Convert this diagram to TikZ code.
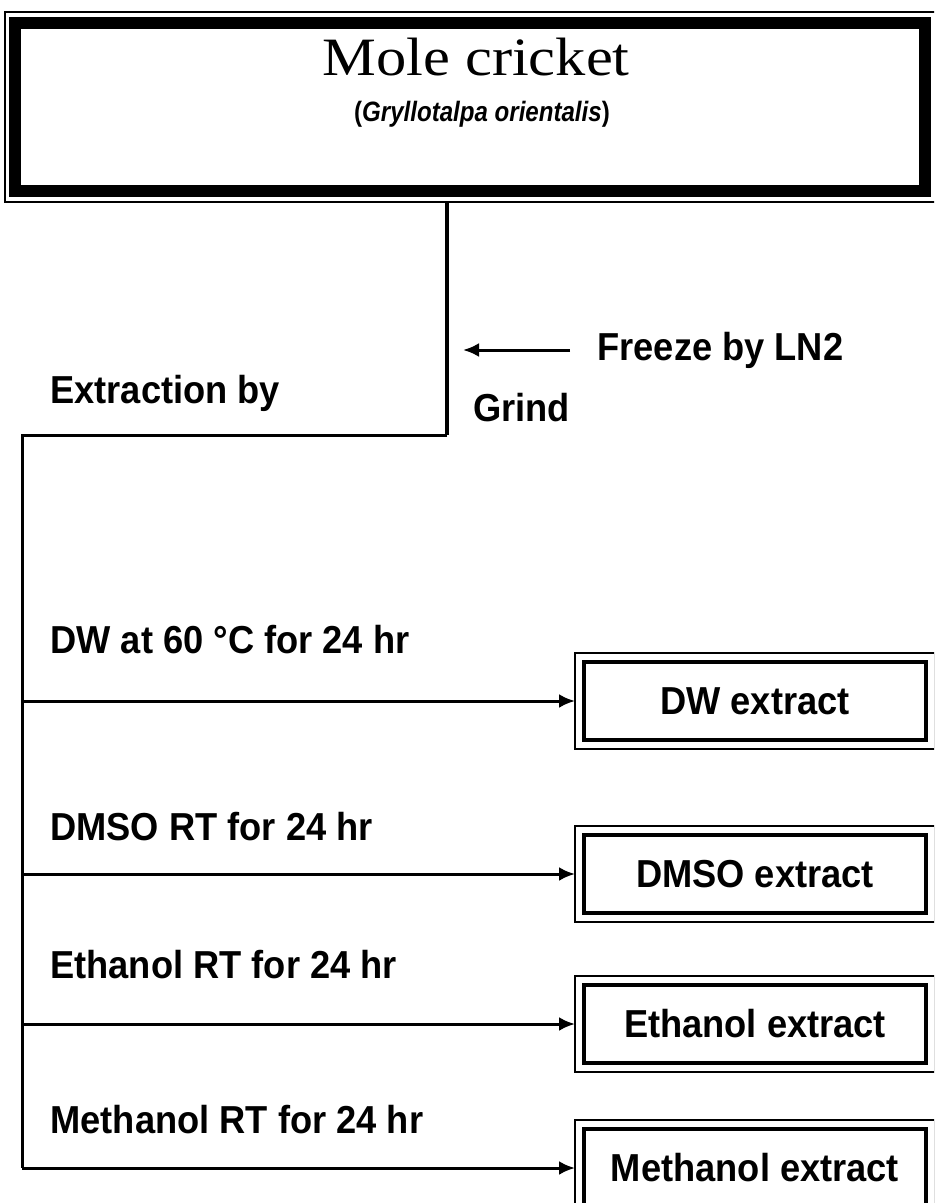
\documentclass[tikz,border=0pt]{standalone}
\usepackage{fontspec}
\setmainfont{Liberation Serif}
\setsansfont{Liberation Sans}
\newfontfamily\titleserif[FakeStretch=1.12]{Liberation Serif}
\newfontfamily\narrowsans[FakeStretch=0.93]{Liberation Sans}
\newfontfamily\speciessans[FakeStretch=0.86]{Liberation Sans}
\usepackage{tikz}
\usetikzlibrary{arrows.meta,calc}
\newcommand\labfont{\narrowsans\bfseries\fontsize{19.5}{23}\selectfont}
\newcommand\titlefont{\titleserif\fontsize{27}{32}\selectfont}
\newcommand\speciesfont{\speciessans\bfseries\fontsize{14}{16}\selectfont}
\tikzset{
  box-title/.style={draw,line width=6pt,minimum width=455pt,
    minimum height=84.25pt,outer sep=5.25pt},
  box-extract/.style={draw,line width=1.75pt,minimum width=171pt,
    minimum height=39pt,outer sep=4.5pt,font=\labfont},
  box-frame/.style={line width=1pt},
  link/.style={line width=1.5pt},
  stem/.style={line width=2.2pt},
  arrow/.style={-{Latex[length=8pt,width=7pt]},line width=1.5pt},
  lab/.style={font=\labfont,anchor=base west,inner sep=0pt},
}

\begin{document}
\begin{tikzpicture}[x=0.5pt,y=-0.5pt]
  \clip (0,0) rectangle (934,1203);
  % source
  \node[box-title] (cricket) at (470,107.25) {};
  \draw[box-frame] (cricket.north west) rectangle (cricket.south east);
  \node[font=\titlefont,anchor=base] (title) at (476,76) {Mole cricket};
  \node[font=\speciesfont,anchor=base] (species) at (482,122)
    {(\textit{Gryllotalpa orientalis})};
  % grinding
  \coordinate (bend) at (447,435);
  \coordinate (corner) at (22,435);
  \coordinate (freezeTip) at (463,350);
  \node[font=\labfont,anchor=west,inner sep=0pt] (freeze) at (597,350) {Freeze by LN2};
  \node[lab] (grind) at (473,421) {Grind};
  \node[lab] (extraction) at (50,403) {Extraction by};
  \draw[arrow,shorten <=13.5pt] (freeze.west) -- (freezeTip);
  % extracts
  \node[box-extract] (dw)   at (755,701)  {DW extract};
  \node[box-extract] (dmso) at (755,874)  {DMSO extract};
  \node[box-extract] (eth)  at (755,1024) {Ethanol extract};
  \node[box-extract] (meth) at (755,1168) {Methanol extract};
  \foreach \b in {dw,dmso,eth,meth}
    \draw[box-frame] (\b.north west) rectangle (\b.south east);
  \node[lab] (dwLab)   at (50,653)  {DW at 60 °C for 24 hr};
  \node[lab] (dmsoLab) at (50,840)  {DMSO RT for 24 hr};
  \node[lab] (ethLab)  at (50,978)  {Ethanol RT for 24 hr};
  \node[lab] (methLab) at (50,1133) {Methanol RT for 24 hr};
  % connectors
  \draw[stem] (cricket.south -| bend) -- (bend);
  \draw[link] (bend) -- (corner) -- (corner |- meth.west);
  \foreach \b in {dw,dmso,eth,meth}
    \draw[arrow] (corner |- \b.west) -- (\b.west);
\end{tikzpicture}
\end{document}
